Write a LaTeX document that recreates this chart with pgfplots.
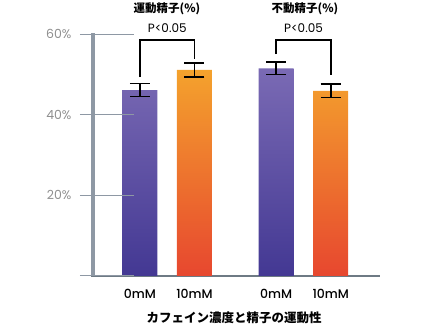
\documentclass[border=0pt]{standalone}
\usepackage{fontspec}
\setmainfont{Poppins}[UprightFont={* Medium}]
\newfontfamily\plain{Poppins}
\newfontfamily\jp{Noto Sans CJK JP}
\usepackage{pgfplots}
\pgfplotsset{compat=1.18}
\definecolor{purTop}{HTML}{7A6AB4}
\definecolor{purBot}{HTML}{433893}
\definecolor{orTop}{HTML}{F4A22D}
\definecolor{orBot}{HTML}{E7472F}
\definecolor{yline}{HTML}{8E98A4}
\definecolor{xline}{HTML}{6E7A84}
\definecolor{ticklab}{HTML}{8F8F8F}
\begin{document}
\begin{tikzpicture}
\begin{axis}[
  at={(0,0)}, anchor=south west,
  scale only axis, width=287pt, height=242pt,
  xmin=-0.862, xmax=4.404, ymin=0, ymax=60,
  clip=false,
  axis lines=left,
  x axis line style={-, draw=xline, line width=2.5pt, shorten <=-2pt},
  y axis line style={-, draw=yline, line width=3.5pt, shorten >=-1pt},
  major tick length=0pt,
  xtick={0,1,2.5,3.5},
  xticklabels={0mM,10mM,0mM,10mM},
  xticklabel style={font=\fontsize{12.5}{14}\selectfont, yshift=-10pt},
  ytick={0,20,40,60},
  yticklabels={,20\%,40\%,60\%},
  yticklabel style={font=\plain\fontsize{12.5}{14}\selectfont, text=ticklab, xshift=-18pt},
  /pgf/number format/assume math mode=true,
  error bars/y dir=both, error bars/y explicit,
  error bars/error bar style={line width=1.6pt, black},
  error bars/error mark options={rotate=90, mark size=10pt, line width=1.6pt, black},
]
\addplot[ybar, bar width=35pt, bar shift=0pt, draw=none, top color=purTop, bottom color=purBot]
  coordinates {(0,46.1) +- (0,1.6) (2.5,51.5) +- (0,1.55)};
\addplot[ybar, bar width=35pt, bar shift=0pt, draw=none, top color=orTop, bottom color=orBot]
  coordinates {(1,51.1) +- (0,1.7) (3.5,45.9) +- (0,1.65)};
% significance brackets
\draw[black, line width=1.6pt] (axis cs:0,49.3) -- (axis cs:0,58.5) -- (axis cs:1,58.5) -- (axis cs:1,53.8);
\draw[black, line width=1.6pt] (axis cs:2.5,55.0) -- (axis cs:2.5,58.5) -- (axis cs:3.5,58.5) -- (axis cs:3.5,49.8);
\node[font=\plain\fontsize{12}{14}\selectfont, anchor=base] at (axis cs:0.5,60.3) {P<0.05};
\node[font=\plain\fontsize{12}{14}\selectfont, anchor=base] at (axis cs:3.0,60.3) {P<0.05};
% y tick marks
\draw[yline, line width=1pt] ([xshift=-13pt]axis cs:-0.862,0) -- ++(7pt,0);
\draw[yline, line width=1pt] ([xshift=-13pt]axis cs:-0.862,20) -- ++(7pt,0);
\draw[yline, line width=1pt] ([xshift=-13pt]axis cs:-0.862,40) -- ++(7pt,0);
\draw[yline, line width=1pt] ([xshift=-13pt]axis cs:-0.862,60) -- ++(7pt,0);
\end{axis}
\node[font=\jp\bfseries\fontsize{11.5}{13}\selectfont] at (74pt,267pt) {運動精子(\%)};
\node[font=\jp\bfseries\fontsize{11.5}{13}\selectfont] at (212pt,267pt) {不動精子(\%)};
\node[font=\jp\bfseries\fontsize{12.5}{14}\selectfont] at (141pt,-42pt) {カフェイン濃度と精子の運動性};
\pgfresetboundingbox
\useasboundingbox (-93pt,-53pt) rectangle (330pt,276pt);
\end{tikzpicture}
\end{document}
